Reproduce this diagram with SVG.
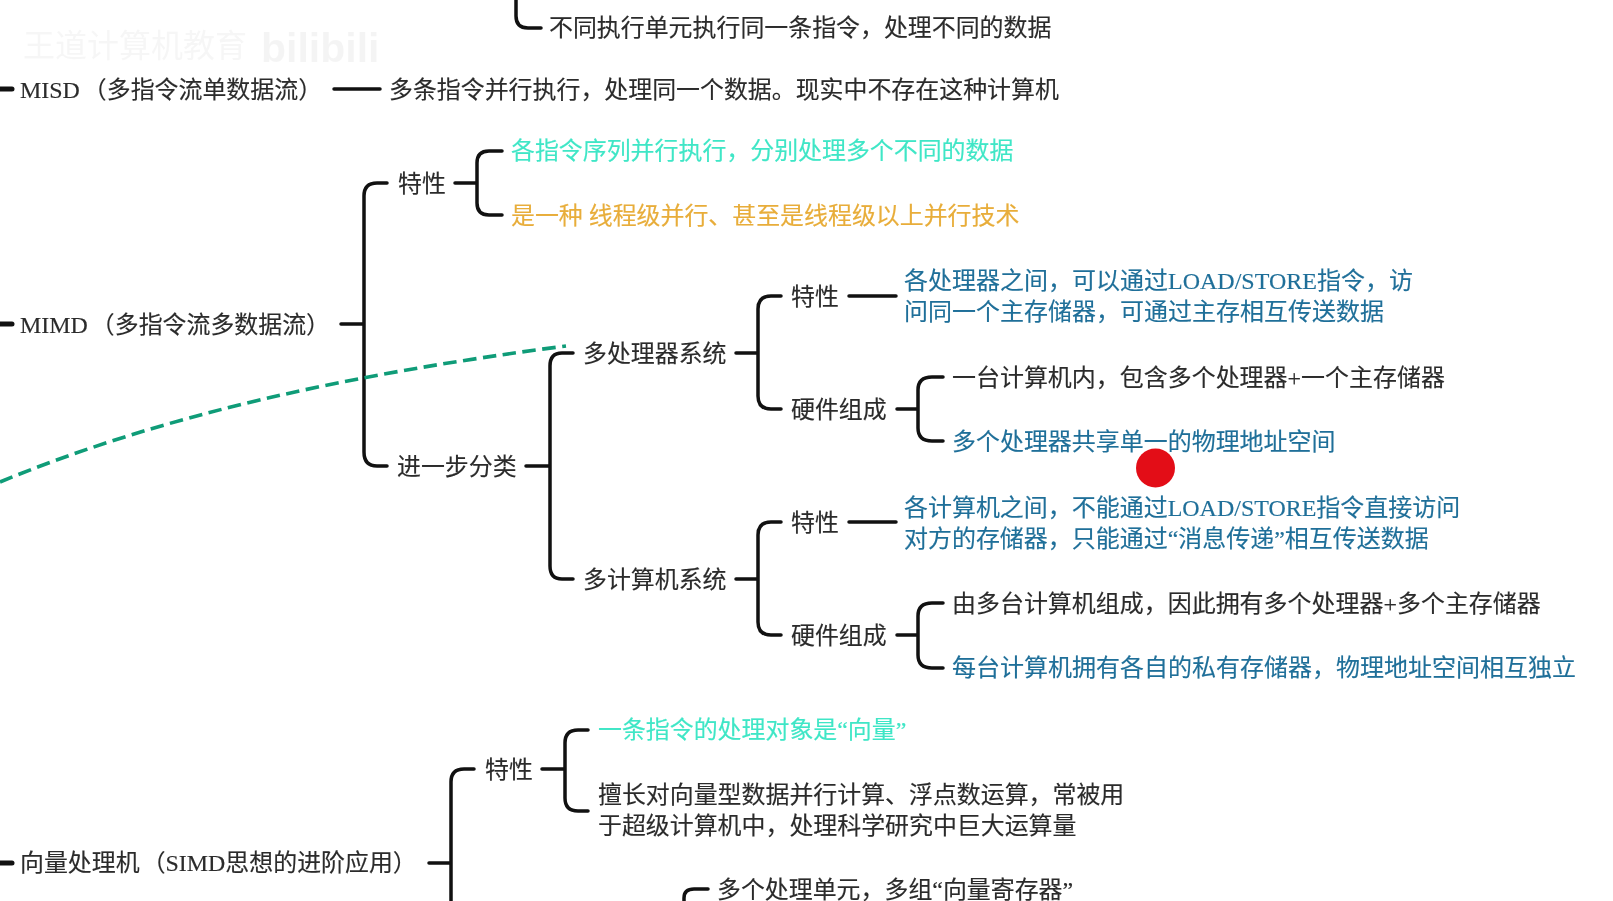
<svg xmlns="http://www.w3.org/2000/svg" width="1613" height="901" viewBox="0 0 1613 901">
<style>
svg>g,svg>circle{filter:blur(.45px)}
text{font-family:"Liberation Serif","Noto Sans CJK SC",sans-serif;font-size:23.93px;fill:#2b2b2b;stroke:#2b2b2b;stroke-width:.15}
.b{fill:#1f6f99;stroke:#1f6f99}.c{fill:#3fe6c6;stroke:#3fe6c6}.o{fill:#e8ad3a;stroke:#e8ad3a}
.w{font-size:23.97px}.x{font-size:24px}
#links path{fill:none;stroke:#111;stroke-width:3.5;stroke-linecap:round}
#links path.s{stroke-width:5}
#links path.d{stroke:#0f9c78;stroke-width:3.6;stroke-dasharray:13.5 6.5;stroke-linecap:butt}
</style>
<rect width="1613" height="901" fill="#fff"/>
<g id="watermark" opacity=".07">
<text x="23" y="57" style="fill:#888;stroke:none;font-size:32px">王道计算机教育</text>
<text x="261" y="62" style="fill:#777;stroke:none;font-size:41px;font-family:'Liberation Sans',sans-serif;font-weight:bold">bilibili</text>
</g>
<g id="links">
<path d="M516 0V16Q516 28 528 28H541"/>
<path class="s" d="M0 89H12"/>
<path d="M334 89H380"/>
<path d="M455 183H477M477 183V163Q477 151 489 151H502M477 183V203Q477 215 489 215H502"/>
<path class="s" d="M0 324H12"/>
<path d="M341 324H364M387 183H377Q364 183 364 196V452Q364 466 377 466H387"/>
<path d="M526 466H550M573 353H562Q550 353 550 366V566Q550 579 562 579H573"/>
<path d="M736 353H758M781 296H771Q758 296 758 309V396Q758 409 771 409H781"/>
<path d="M849 296H896"/>
<path d="M897 409H918M943 377H932Q918 377 918 390V428Q918 441 932 441H943"/>
<path d="M736 579H758M781 522H771Q758 522 758 535V622Q758 635 771 635H781"/>
<path d="M849 522H896"/>
<path d="M897 635H918M943 603H932Q918 603 918 616V655Q918 668 932 668H943"/>
<path class="s" d="M0 863H12"/>
<path d="M429 863H451M474 769H464Q451 769 451 782V901"/>
<path d="M542 769H565M588 730H578Q565 730 565 743V798Q565 811 578 811H588"/>
<path d="M684 901V898Q684 889 694 889H708"/>
<path class="d" d="M0 482C165 414 350 374 566 346"/>
</g>
<g id="n1"><text x="549" y="36">不同执行单元执行同一条指令，处理不同的数据</text></g>
<g id="n2"><text x="20" y="98">MISD<tspan dx="3">（多指令流单数据流）</tspan></text></g>
<g id="n3"><text x="389" y="98">多条指令并行执行，处理同一个数据。现实中不存在这种计算机</text></g>
<g id="n4"><text x="20" y="333">MIMD<tspan dx="3">（多指令流多数据流）</tspan></text></g>
<g id="n5"><text x="398" y="192">特性</text></g>
<g id="n6"><text class="c" x="511" y="159">各指令序列并行执行，分别处理多个不同的数据</text></g>
<g id="n7"><text class="o" x="511" y="224">是一种 线程级并行、甚至是线程级以上并行技术</text></g>
<g id="n8"><text x="397" y="475">进一步分类</text></g>
<g id="n9"><text x="583" y="362">多处理器系统</text></g>
<g id="n10"><text x="791" y="305">特性</text></g>
<g id="n11"><text class="b x" x="904" y="289">各处理器之间，可以通过LOAD/STORE指令，访</text><text class="b x" x="904" y="320">问同一个主存储器，可通过主存相互传送数据</text></g>
<g id="n12"><text x="791" y="418">硬件组成</text></g>
<g id="n13"><text class="w" x="952" y="386">一台计算机内，包含多个处理器+一个主存储器</text></g>
<g id="n14"><text class="b w" x="952" y="450">多个处理器共享单一的物理地址空间</text></g>
<g id="n15"><text x="583" y="588">多计算机系统</text></g>
<g id="n16"><text x="791" y="531">特性</text></g>
<g id="n17"><text class="b w" x="904" y="516">各计算机之间，不能通过LOAD/STORE指令直接访问</text><text class="b w" x="904" y="547">对方的存储器，只能通过“消息传递”相互传送数据</text></g>
<g id="n18"><text x="791" y="644">硬件组成</text></g>
<g id="n19"><text class="w" x="952" y="612">由多台计算机组成，因此拥有多个处理器+多个主存储器</text></g>
<g id="n20"><text class="b x" x="952" y="676">每台计算机拥有各自的私有存储器，物理地址空间相互独立</text></g>
<g id="n21"><text x="20" y="871">向量处理机<tspan dx="2">（SIMD思想的进阶应用）</tspan></text></g>
<g id="n22"><text x="485" y="778">特性</text></g>
<g id="n23"><text class="c" x="598" y="738">一条指令的处理对象是“向量”</text></g>
<g id="n24"><text x="598" y="803">擅长对向量型数据并行计算、浮点数运算，常被用</text><text x="598" y="834">于超级计算机中，处理科学研究中巨大运算量</text></g>
<g id="n25"><text x="717" y="898">多个处理单元，多组“向量寄存器”</text></g>
<circle id="pointer" cx="1155.5" cy="468" r="19.5" fill="#e30d17"/>
</svg>
